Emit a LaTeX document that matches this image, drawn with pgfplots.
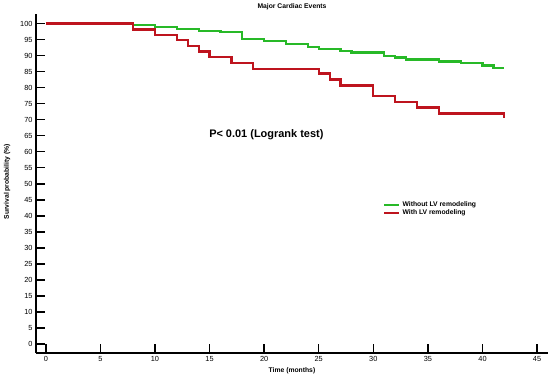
\documentclass[border=0pt]{standalone}
\usepackage{pgfplots}
\pgfplotsset{compat=1.18}
\usepackage{fontspec}
\setmainfont{Liberation Sans}
\definecolor{kmgreen}{RGB}{40,185,40}
\definecolor{kmred}{RGB}{190,20,30}
\begin{document}
\begin{tikzpicture}
\path[use as bounding box] (0,0) rectangle (550bp,380bp);
\begin{axis}[
  at={(36bp,27bp)}, anchor=south west,
  scale only axis, width=512bp, height=339bp,
  xmin=-0.9, xmax=46, ymin=-2.8, ymax=103,
  axis x line*=bottom, axis y line*=left,
  axis line style={line width=1.8bp,-},
  xtick={0,5,...,45}, ytick={0,5,...,100},
  tick align=inside, major tick length=8.5bp,
  every tick/.style={black,line width=1.4bp},
  tick label style={font=\fontsize{7.4}{8}\selectfont},
  /pgf/number format/assume math mode=true,
  xlabel={Time (months)},
  xlabel style={font=\bfseries\fontsize{6.8}{8}\selectfont, at={(axis description cs:0.5,0)}, anchor=center, yshift=-18bp},
  ylabel={Survival probability (\%)},
  ylabel style={font=\bfseries\fontsize{6.8}{8}\selectfont, at={(axis description cs:-0.0566,0.505)}, anchor=center},
  legend style={draw=none, fill=none, at={(rel axis cs:0.672,0.425)}, anchor=west, font=\bfseries\fontsize{6.8}{8}\selectfont, row sep=-2.5bp},
  legend cell align=left,
  legend image code/.code={\draw[#1] (0bp,0bp) -- (15bp,0bp);},
  clip=false,
]
\addplot[const plot, kmgreen, line width=2.3bp] coordinates {
(0,100) (8,99.5) (10,99.0) (12,98.3) (14,97.8) (16,97.3) (18,95.1) (20,94.5)
(22,93.7) (24,92.6) (25,92.0) (27,91.5) (28,91.0) (31,90.0) (32,89.4) (33,88.8)
(36,88.2) (38,87.7) (40,86.9) (41,86.1) (42,86.1)};
\addlegendentry{Without LV remodeling}
\addplot[const plot, kmred, line width=2.3bp] coordinates {
(0,100) (8,98.2) (10,96.5) (12,94.8) (13,93.0) (14,91.3) (15,89.5) (17,87.8)
(19,85.9) (25,84.4) (26,82.6) (27,80.7) (30,77.3) (32,75.5) (34,73.8) (36,71.9)
(42,71.9) (42,70.5)};
\addlegendentry{With LV remodeling}
\node[font=\bfseries\fontsize{11}{13}\selectfont] at (axis cs:20.2,65.3) {P< 0.01 (Logrank test)};
\node[font=\bfseries\fontsize{6.8}{8}\selectfont, yshift=7bp] at (rel axis cs:0.5,1) {Major Cardiac Events};
\end{axis}
\end{tikzpicture}
\end{document}
